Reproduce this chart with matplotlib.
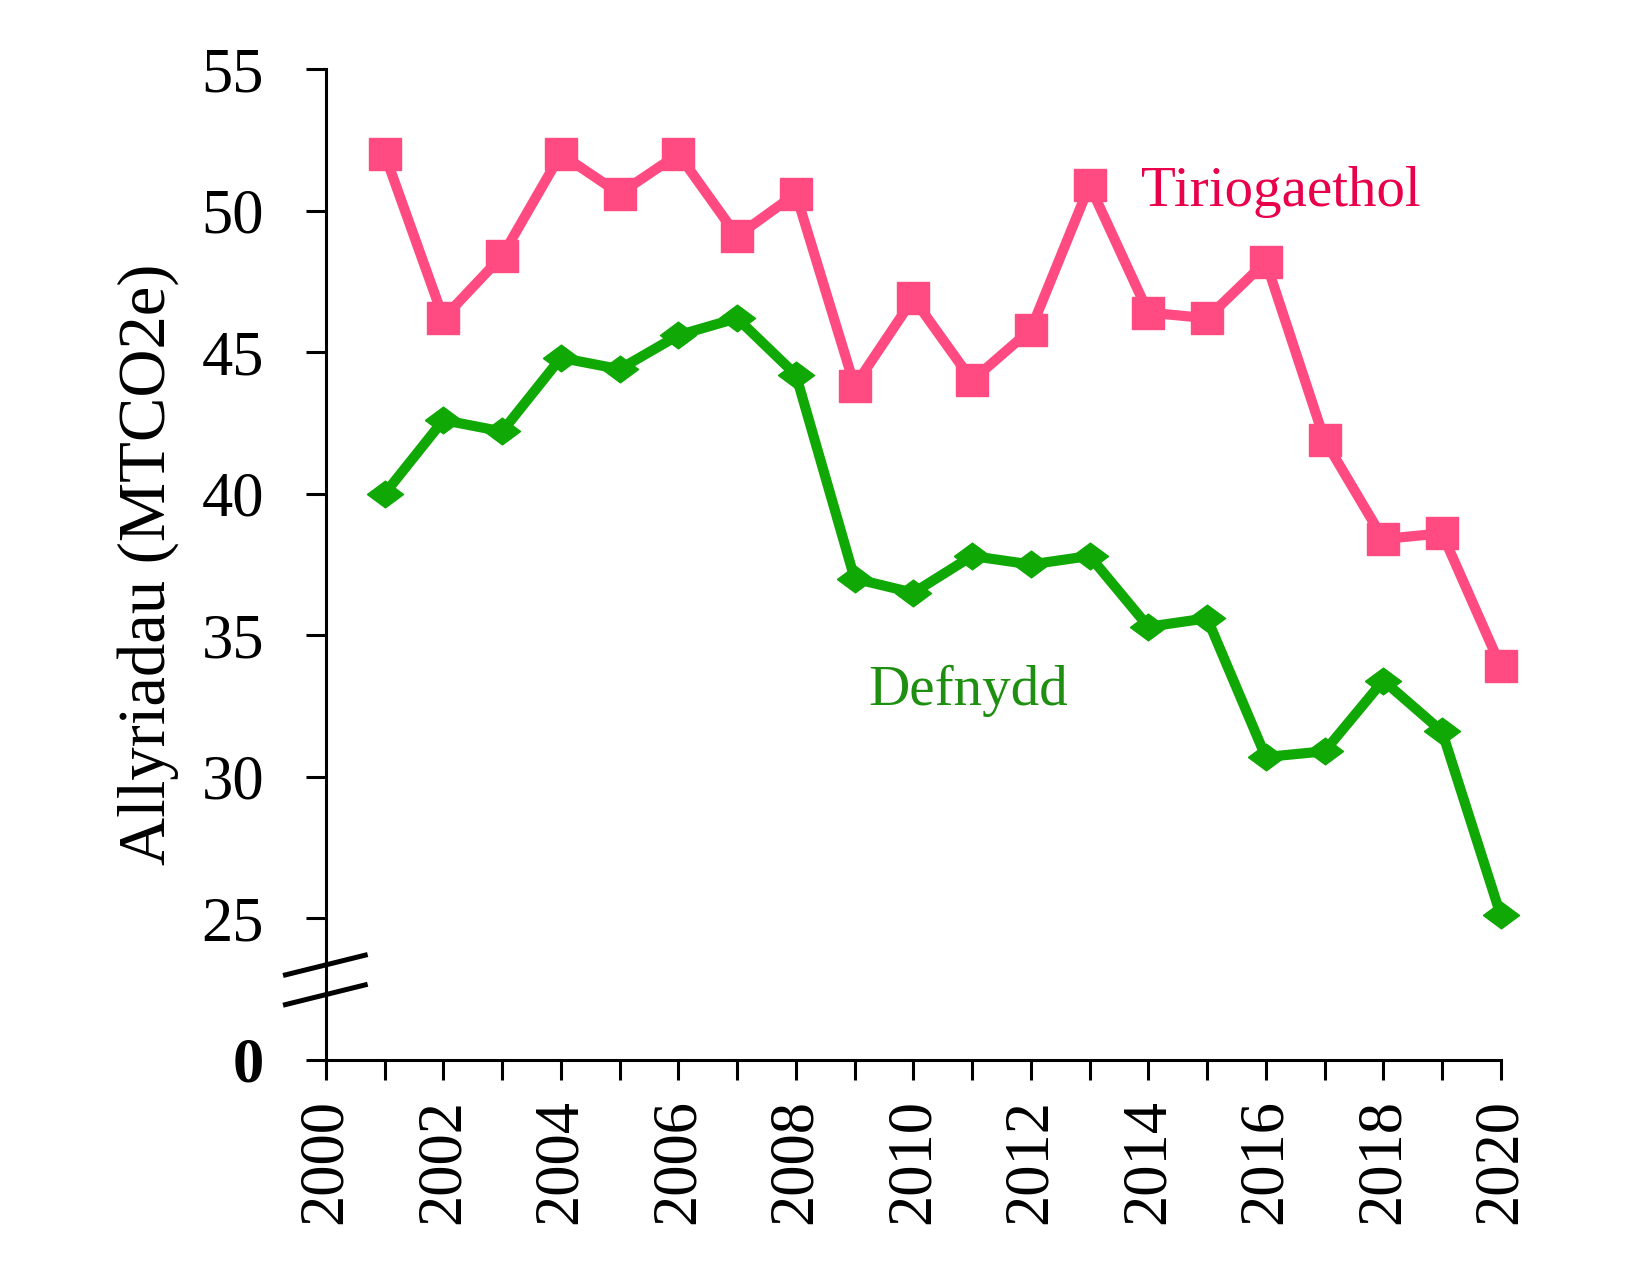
import matplotlib
matplotlib.use('Agg')
import matplotlib.pyplot as plt
from matplotlib.ticker import MultipleLocator

plt.rcParams['font.family'] = 'Liberation Serif'

years = list(range(2001, 2021))
tiriogaethol = [52.0, 46.2, 48.4, 52.0, 50.6, 52.0, 49.1, 50.6, 43.8, 46.9,
                44.0, 45.8, 50.9, 46.4, 46.2, 48.2, 41.9, 38.4, 38.6, 33.9]
defnydd = [40.0, 42.6, 42.2, 44.8, 44.4, 45.6, 46.2, 44.2, 37.0, 36.5,
           37.8, 37.5, 37.8, 35.3, 35.6, 30.7, 30.9, 33.4, 31.6, 25.1]
ytick_vals = [20, 25, 30, 35, 40, 45, 50, 55]   # 20 stands for 0 (broken axis)
ytick_labels = ['0', '25', '30', '35', '40', '45', '50', '55']
xtick_vals = list(range(2000, 2021, 2))

pink = '#FF4A82'
pink_text = '#E8004B'
green = '#10A805'
green_text = '#1E8F10'

fig = plt.figure(figsize=(16.42, 12.8), dpi=100)
ax = fig.add_axes([0.1985, 0.172, 0.7155, 0.774])

diamond = [(-1, 0), (0, 0.74), (1, 0), (0, -0.74), (-1, 0)]
ax.plot(years, tiriogaethol, color=pink, lw=7.3, marker='s', ms=23, clip_on=False)
ax.plot(years, defnydd, color=green, lw=7.3, marker=diamond, ms=26, clip_on=False)

ax.set_xlim(2000, 2020)
ax.set_ylim(20, 55)
ax.spines['top'].set_visible(False)
ax.spines['right'].set_visible(False)
for s in ['left', 'bottom']:
    ax.spines[s].set_linewidth(2.2)

ax.set_yticks(ytick_vals)
ax.set_yticklabels(ytick_labels)
ax.set_xticks(xtick_vals)
ax.set_xticklabels([str(y) for y in xtick_vals], rotation=90)
ax.xaxis.set_minor_locator(MultipleLocator(1))
ax.tick_params(axis='both', which='both', length=14.5, width=2.2, labelsize=45)
ax.tick_params(axis='y', pad=30)
ax.tick_params(axis='x', pad=14)
ax.get_yticklabels()[0].set_fontweight('bold')

# axis break marks
for yb in [22.3, 23.35]:
    ax.plot([1999.27, 2000.71], [yb - 0.37, yb + 0.37], color='black', lw=3.6,
            clip_on=False, solid_capstyle='butt')

ax.set_ylabel('Allyriadau (MTCO2e)', fontsize=48, labelpad=16)

ax.text(2013.87, 50.67, 'Tiriogaethol', color=pink_text, fontsize=41,
        va='center', ha='left')
ax.text(2009.24, 33.04, 'Defnydd', color=green_text, fontsize=41,
        va='center', ha='left')

fig.savefig('out.png', dpi=100)
